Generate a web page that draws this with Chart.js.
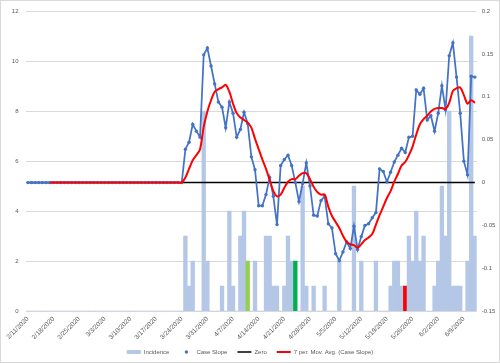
<!DOCTYPE html>
<html lang="en">
<head>
<meta charset="UTF-8">
<title>Incidence and Case Slope</title>
<script src="https://cdn.jsdelivr.net/npm/chart.js"></script>
<style>
    html, body { margin: 0; padding: 0; background: #fff; }
    #wrap { width: 500px; height: 363px; }
</style>
</head>
<body>
<div id="wrap"><canvas id="chart" width="500" height="363"></canvas></div>
<script>
// one category per day, 2/11/2020 .. 6/12/2020
const dates = [
    '2/11/2020','2/12/2020','2/13/2020','2/14/2020','2/15/2020','2/16/2020','2/17/2020','2/18/2020','2/19/2020','2/20/2020',
    '2/21/2020','2/22/2020','2/23/2020','2/24/2020','2/25/2020','2/26/2020','2/27/2020','2/28/2020','2/29/2020',
    '3/1/2020','3/2/2020','3/3/2020','3/4/2020','3/5/2020','3/6/2020','3/7/2020','3/8/2020','3/9/2020','3/10/2020',
    '3/11/2020','3/12/2020','3/13/2020','3/14/2020','3/15/2020','3/16/2020','3/17/2020','3/18/2020','3/19/2020','3/20/2020',
    '3/21/2020','3/22/2020','3/23/2020','3/24/2020','3/25/2020','3/26/2020','3/27/2020','3/28/2020','3/29/2020','3/30/2020','3/31/2020',
    '4/1/2020','4/2/2020','4/3/2020','4/4/2020','4/5/2020','4/6/2020','4/7/2020','4/8/2020','4/9/2020','4/10/2020',
    '4/11/2020','4/12/2020','4/13/2020','4/14/2020','4/15/2020','4/16/2020','4/17/2020','4/18/2020','4/19/2020','4/20/2020',
    '4/21/2020','4/22/2020','4/23/2020','4/24/2020','4/25/2020','4/26/2020','4/27/2020','4/28/2020','4/29/2020','4/30/2020',
    '5/1/2020','5/2/2020','5/3/2020','5/4/2020','5/5/2020','5/6/2020','5/7/2020','5/8/2020','5/9/2020','5/10/2020',
    '5/11/2020','5/12/2020','5/13/2020','5/14/2020','5/15/2020','5/16/2020','5/17/2020','5/18/2020','5/19/2020','5/20/2020',
    '5/21/2020','5/22/2020','5/23/2020','5/24/2020','5/25/2020','5/26/2020','5/27/2020','5/28/2020','5/29/2020','5/30/2020','5/31/2020',
    '6/1/2020','6/2/2020','6/3/2020','6/4/2020','6/5/2020','6/6/2020','6/7/2020','6/8/2020','6/9/2020','6/10/2020','6/11/2020','6/12/2020'
];

const tickLabels = ['2/11/2020','2/18/2020','2/25/2020','3/3/2020','3/10/2020','3/17/2020','3/24/2020','3/31/2020','4/7/2020',
    '4/14/2020','4/21/2020','4/28/2020','5/5/2020','5/12/2020','5/19/2020','5/26/2020','6/2/2020','6/9/2020'];

// daily new cases (left axis)
const incidence = [
    0,0,0,0,0,0,0,0,0,0, 0,0,0,0,0,0,0,0,0,
    0,0,0,0,0,0,0,0,0,0, 0,0,0,0,0,0,0,0,0,0, 0,0,0,0,3,1,2,0,0,8,2,
    0,0,0,1,0,4,1,0,3,4, 2,0,2,0,0,3,3,1,1,0, 1,3,2,2,0,5,1,0,1,0,
    0,1,0,0,0,2,0,0,0,5, 0,2,0,0,0,2,0,0,0,1, 2,2,1,1,3,2,4,2,3,0,0,
    1,2,5,3,8,1,1,1,0,2,11,3
];

// case slope (right axis)
const caseSlope = [
    0,0,0,0,0,0,0,0,0,0, 0,0,0,0,0,0,0,0,0,
    0,0,0,0,0,0,0,0,0,0, 0,0,0,0,0,0,0,0,0,0, 0,0,0,0,0.039,0.047,0.068,0.060,0.053,0.149,0.157,
    0.136,0.115,0.094,0.088,0.064,0.094,0.081,0.053,0.062,0.082,
    0.069,0.030,0.015,-0.027,-0.027,-0.014,0.006,-0.016,-0.049,0.020,
    0.027,0.032,0.020,0.000,-0.022,-0.001,0.023,-0.004,-0.038,-0.039,
    -0.021,-0.016,-0.048,-0.053,-0.083,-0.091,-0.081,-0.069,-0.077,-0.051,
    -0.078,-0.063,-0.050,-0.048,-0.041,-0.035,0.016,0.013,0.001,0.012,
    0.024,0.032,0.040,0.035,0.053,0.054,0.108,0.103,0.110,0.073,0.078,
    0.060,0.081,0.113,0.085,0.148,0.163,0.123,0.081,0.025,0.009,0.124,0.123
];

// 7 period moving average of the case slope
const movAvg = [
    null,null,null,null,null,null,0,0,0,0, 0,0,0,0,0,0,0,0,0,
    0,0,0,0,0,0,0,0,0,0, 0,0,0,0,0,0,0,0,0,0, 0,0,0,0,0.006,0.016,0.026,0.032,0.039,0.065,0.083,
    0.096,0.106,0.109,0.111,0.114,0.106,0.092,0.081,0.076,0.073,
    0.070,0.064,0.051,0.039,0.027,0.016,0.003,-0.010,-0.016,-0.014,
    -0.006,0.001,0.004,0.004,0.008,0.011,0.011,0.004,-0.005,-0.011,
    -0.014,-0.014,-0.028,-0.039,-0.046,-0.053,-0.062,-0.069,-0.072,-0.073,
    -0.076,-0.072,-0.067,-0.064,-0.060,-0.049,-0.038,-0.028,-0.018,-0.010,
    0.001,0.010,0.020,0.024,0.032,0.042,0.056,0.068,0.074,0.078,0.083,
    0.086,0.087,0.087,0.086,0.093,0.107,0.110,0.111,0.102,0.092,0.096,0.093
];

// flat reference line, first day to last day
const zeroLine = [{ x: '2/11/2020', y: 0 }, { x: '6/12/2020', y: 0 }];

// days whose bar is coloured differently
const highlightDays = { '4/11/2020': '#92D050', '4/24/2020': '#00B050', '5/24/2020': '#FF0000' };

Chart.defaults.font.family = '"Liberation Sans", Arial, sans-serif';
Chart.defaults.color = '#595959';
Chart.defaults.animation = false;

const barColors = dates.map(d => highlightDays[d] || '#B4C7E7');

// thin grey frame around the whole chart
const chartFrame = {
    id: 'chartFrame',
    afterDraw(chart) {
        const c = chart.ctx;
        c.save();
        c.strokeStyle = '#D9D9D9';
        c.lineWidth = 1;
        c.strokeRect(0.5, 0.5, chart.width - 1, chart.height - 1);
        c.restore();
    }
};

// marker dot on the "Case Slope" legend line
const legendMarker = {
    id: 'legendMarker',
    afterDraw(chart) {
        const lg = chart.legend;
        const idx = lg.legendItems.findIndex(it => it.datasetIndex === 1);
        const hb = lg.legendHitBoxes[idx];
        if (!hb) return;
        const c = chart.ctx;
        c.save();
        c.fillStyle = '#4472C4';
        c.beginPath();
        c.arc(hb.left + 7, hb.top + hb.height / 2, 1.7, 0, Math.PI * 2);
        c.fill();
        c.restore();
    }
};

const ctx = document.getElementById('chart').getContext('2d');
const chart = new Chart(ctx, {
    data: {
        labels: dates,
        datasets: [
            {
                type: 'bar',
                label: 'Incidence',
                data: incidence,
                yAxisID: 'y',
                backgroundColor: barColors,
                barPercentage: 1,
                categoryPercentage: 1,
                order: 4
            },
            {
                type: 'line',
                label: 'Case Slope',
                data: caseSlope,
                yAxisID: 'y1',
                borderColor: '#4472C4',
                backgroundColor: '#4472C4',
                borderWidth: 1.75,
                pointRadius: 1.7,
                pointBorderWidth: 0,
                tension: 0,
                order: 2
            },
            {
                type: 'line',
                label: 'Zero',
                data: zeroLine,
                yAxisID: 'y1',
                borderColor: '#000000',
                backgroundColor: '#000000',
                borderWidth: 1.5,
                pointRadius: 0,
                order: 3
            },
            {
                type: 'line',
                label: '7 per. Mov. Avg. (Case Slope)',
                data: movAvg,
                yAxisID: 'y1',
                borderColor: '#FF0000',
                backgroundColor: '#FF0000',
                borderWidth: 2,
                pointRadius: 0,
                tension: 0.3,
                order: 1
            }
        ]
    },
    options: {
        responsive: false,
        layout: { padding: { top: 8, bottom: -2, left: 0, right: 0 } },
        plugins: {
            tooltip: { enabled: false },
            legend: {
                position: 'bottom',
                labels: {
                    usePointStyle: true,
                    pointStyleWidth: 14,
                    boxHeight: 4,
                    padding: 10,
                    font: { size: 6 },
                    sort: (a, b) => a.datasetIndex - b.datasetIndex,
                    generateLabels(chart) {
                        const items = Chart.defaults.plugins.legend.labels.generateLabels(chart);
                        items.forEach(it => {
                            if (it.datasetIndex === 0) {
                                it.pointStyle = 'rect';
                                it.fillStyle = '#B4C7E7';
                                it.lineWidth = 0;
                            } else {
                                it.pointStyle = 'line';
                            }
                        });
                        return items;
                    }
                }
            }
        },
        scales: {
            x: {
                offset: true,
                grid: { display: false, drawTicks: false },
                border: { display: false },
                ticks: {
                    autoSkip: false,
                    minRotation: 45,
                    maxRotation: 45,
                    padding: 4,
                    font: { size: 6.5 },
                    callback(value) {
                        const lbl = this.getLabelForValue(value);
                        return tickLabels.includes(lbl) ? lbl : null;
                    }
                },
                afterFit(scale) { scale.height = 27.8; }
            },
            y: {
                position: 'left',
                min: 0,
                max: 12,
                ticks: { stepSize: 2, padding: 7.5, font: { size: 6 } },
                grid: { color: '#D9D9D9', drawTicks: false },
                border: { display: false },
                afterFit(scale) { scale.width = 26; }
            },
            y1: {
                position: 'right',
                min: -0.15,
                max: 0.2,
                ticks: {
                    stepSize: 0.05,
                    padding: 5,
                    font: { size: 6 },
                    callback: v => String(Math.round(v * 100) / 100)
                },
                grid: { display: false, drawTicks: false },
                border: { display: false },
                afterFit(scale) { scale.width = 23.3; }
            }
        }
    },
    plugins: [chartFrame, legendMarker]
});
</script>
</body>
</html>
